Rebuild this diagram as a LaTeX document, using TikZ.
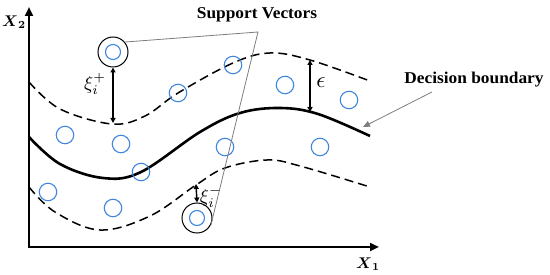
\documentclass[tikz,border=0pt]{standalone}
\usepackage{amsmath}
\usepackage{fontspec}
\setmainfont{Liberation Serif}
\usetikzlibrary{arrows.meta}
\definecolor{ptblue}{RGB}{64,134,222}
\definecolor{lgray}{RGB}{125,125,125}
\begin{document}
\begin{tikzpicture}[x=1pt,y=-1pt,
  pt/.style={circle,draw=ptblue,line width=1.1pt,minimum size=17.5pt,inner sep=0pt},
  ptin/.style={circle,draw=ptblue,line width=1.1pt,minimum size=15pt,inner sep=0pt},
  svring/.style={circle,draw=black,line width=1pt,minimum size=30pt,inner sep=0pt},
  axis/.style={line width=2.6pt,line join=miter,{Triangle[length=9pt,width=8pt]}-{Triangle[length=9pt,width=8pt]}},
  bound/.style={line width=2.6pt},
  margin/.style={line width=1.5pt,dash pattern=on 9pt off 5pt},
  dim/.style={line width=1.4pt,{Triangle[length=5pt,width=5pt]}-{Triangle[length=5pt,width=5pt]}},
  pointer/.style={lgray,line width=0.8pt},
  lab/.style={font=\fontsize{16.5}{18}\selectfont\bfseries,inner sep=0pt,xscale=1.05},
  axlab/.style={inner sep=0pt,scale=1.55},
  mlab/.style={inner sep=0pt,scale=1.9},
]
\useasboundingbox (0,0) rectangle (550,275);
% axes
\coordinate (ytop) at (29,7);
\coordinate (O) at (29,247);
\coordinate (xend) at (379,247);
\draw[axis] (ytop) -- (O) -- (xend);
\node[axlab] (x2) at (14,22) {$\boldsymbol{X}_{\boldsymbol{2}}$};
\node[axlab] (x1) at (368,264) {$\boldsymbol{X}_{\boldsymbol{1}}$};
% curves
\draw[margin] plot[smooth,tension=0.6] coordinates {(29,82) (60,109) (112,124) (145,116) (178,93) (233,63) (270,53) (310,60) (370,81)};
\draw[bound] plot[smooth,tension=0.6] coordinates {(29,137) (60,164) (103,178) (141,172) (200,132) (240,113) (280,108) (318,114) (370,136)};
\draw[margin] plot[smooth,tension=0.6] coordinates {(29,187) (55,212) (100,230) (150,216) (196,185) (225,168) (267,160) (300,166) (370,187)};
% points
\node[pt] (p1) at (233,65) {};
\node[pt] (p2) at (178,93) {};
\node[pt] (p3) at (285,85) {};
\node[pt] (p4) at (349,100) {};
\node[pt] (p5) at (65,135) {};
\node[pt] (p6) at (121,144) {};
\node[pt] (p7) at (225,147) {};
\node[pt] (p8) at (141,172) {};
\node[pt] (p9) at (48,192) {};
\node[pt] (p10) at (113,208) {};
\node[pt] (p11) at (320,147) {};
% support vectors
\node[svring] (sv1) at (113,52) {};
\node[ptin] (sv1in) at (113,52) {};
\node[svring] (sv2) at (197,218) {};
\node[ptin] (sv2in) at (197,218) {};
% pointer lines to support vectors
\coordinate (apex) at (258,32);
\draw[pointer] (sv1.40) -- (apex) -- (sv2.-25);
\node[lab] (svlab) at (257,15) {Support Vectors};
% slack and epsilon
\coordinate (up) at (113,123);
\draw[dim] (sv1.south) -- (up);
\node[mlab] (xip) at (95,84) {$\xi_i^{+}$};
\coordinate (lo) at (196,184);
\draw[dim] (lo) -- (sv2.north);
\node[mlab] (xim) at (211,197) {$\xi_i^{-}$};
\coordinate (et) at (310,60);
\coordinate (eb) at (310,112);
\draw[dim] (et) -- (eb);
\node[mlab,scale=1.2] (eps) at (321,83) {$\epsilon$};
% decision boundary label
\node[lab] (dblab) at (474,80) {Decision boundary};
\coordinate (dbtip) at (363,127);
\draw[pointer,-{Triangle[length=7pt,width=6pt]}] (432,92) -- (dbtip);
\end{tikzpicture}
\end{document}
